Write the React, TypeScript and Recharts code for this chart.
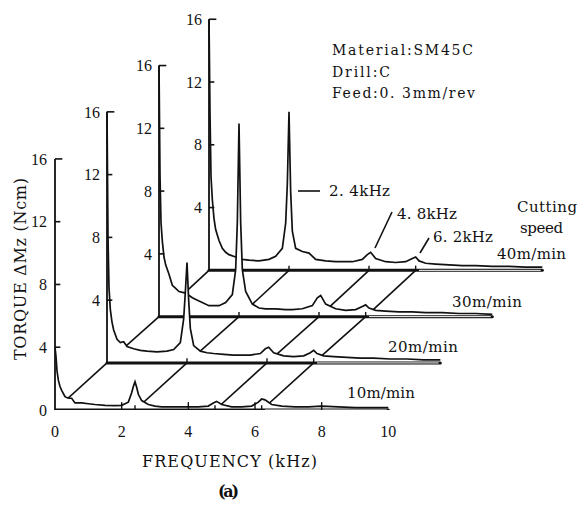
import React from 'react';
import { ComposedChart, Area, XAxis, YAxis, ReferenceLine, ReferenceDot } from 'recharts';

// frequency grid (kHz), shared by all four spectra
const FREQ = [
  0, 0.03, 0.06, 0.1, 0.15, 0.2, 0.3, 0.4, 0.5, 0.6, 0.8, 1.0, 1.2, 1.5, 1.8, 2.0, 2.2,
  2.3, 2.35, 2.4, 2.45, 2.5, 2.6, 2.8, 3.0, 3.2, 3.5, 3.8, 4.0, 4.3, 4.6, 4.75, 4.85, 5.0,
  5.3, 5.6, 5.9, 6.1, 6.2, 6.3, 6.5, 6.8, 7.2, 7.6, 8.0, 8.5, 9.0, 9.5, 10.0,
];

// torque amplitude dMz (Ncm) per cutting speed
const TORQUE_10 = [
  4.0, 3.4, 2.5, 1.9, 1.5, 1.25, 0.85, 0.75, 0.75, 0.45, 0.45, 0.4, 0.35, 0.3, 0.28, 0.3, 0.5,
  1.1, 1.5, 1.8, 1.45, 1.0, 0.6, 0.35, 0.25, 0.2, 0.2, 0.2, 0.2, 0.2, 0.25, 0.45, 0.55, 0.35,
  0.2, 0.2, 0.25, 0.5, 0.7, 0.65, 0.35, 0.25, 0.2, 0.2, 0.25, 0.2, 0.15, 0.15, 0.15,
];
const TORQUE_20 = [
  16, 8, 4.8, 3.4, 2.6, 2.1, 1.5, 1.3, 1.35, 1.05, 0.9, 0.8, 0.75, 0.7, 0.75, 0.85, 1.3,
  2.8, 4.5, 6.4, 4.0, 2.2, 1.1, 0.75, 0.65, 0.6, 0.55, 0.5, 0.5, 0.5, 0.6, 0.9, 1.0, 0.65,
  0.45, 0.4, 0.45, 0.65, 0.8, 0.6, 0.45, 0.4, 0.35, 0.3, 0.3, 0.25, 0.25, 0.2, 0.2,
];
const TORQUE_30 = [
  16, 9, 6, 4.8, 3.8, 3.3, 2.7, 2.0, 1.8, 1.6, 1.5, 1.2, 1.0, 0.7, 0.7, 0.9, 1.4,
  3.0, 6.0, 12.3, 6.0, 3.0, 1.6, 0.8, 0.55, 0.5, 0.5, 0.45, 0.45, 0.5, 0.7, 1.2, 1.35, 0.8,
  0.5, 0.4, 0.45, 0.65, 0.75, 0.55, 0.4, 0.35, 0.3, 0.3, 0.25, 0.25, 0.2, 0.2, 0.15,
];
const TORQUE_40 = [
  16, 10, 6, 4.5, 3.3, 2.6, 1.9, 1.4, 1.15, 1.0, 0.85, 0.7, 0.65, 0.6, 0.7, 0.9, 1.4,
  3.0, 5.5, 10.1, 5.0, 2.5, 1.4, 1.2, 1.1, 0.7, 0.6, 0.55, 0.55, 0.55, 0.7, 1.0, 1.15, 0.75,
  0.55, 0.5, 0.55, 0.75, 0.85, 0.6, 0.45, 0.4, 0.35, 0.3, 0.3, 0.25, 0.25, 0.2, 0.2,
];
const SPECTRA = [TORQUE_10, TORQUE_20, TORQUE_30, TORQUE_40];

const SPEED_LABELS = ['10m/min', '20m/min', '30m/min', '40m/min'];
const GUIDE_FREQ = [0, 2.4, 4.8, 6.2];
const X_TICKS = [0, 2, 4, 6, 8, 10];
const Y_TICKS = [0, 4, 8, 12, 16];
const BACK_Y_TICKS = [4, 8, 12, 16];

// waterfall offset of each layer, in front-axis units (kHz, Ncm)
const DX = [0, 1.56, 3.12, 4.62];
const DY = [0, 3.0, 5.95, 8.9];

const INK = '#111';
const NUM_FONT = { fontFamily: 'Liberation Serif', fontSize: 16, fill: INK };

const layerData = (k: number) =>
  FREQ.map((f, i) => ({ x: f + DX[k], y: SPECTRA[k][i] + DY[k] }));

const seg = (x1: number, y1: number, x2: number, y2: number) => [
  { x: x1, y: y1 },
  { x: x2, y: y2 },
];

export default function App() {
  const layers: React.ReactNode[] = [];
  // back to front so that the white fill of a nearer spectrum hides what is behind it
  for (let k = 3; k >= 0; k--) {
    if (k < 3) {
      GUIDE_FREQ.forEach((f) =>
        layers.push(
          <Area
            key={`diag-${k}-${f}`}
            data={seg(DX[k] + f, DY[k], DX[k + 1] + f, DY[k + 1])}
            dataKey="y"
            type="linear"
            stroke={INK}
            strokeWidth={1.6}
            fill="none"
            isAnimationActive={false}
            dot={false}
            activeDot={false}
          />
        )
      );
    }
    layers.push(
      <Area
        key={`spec-${k}`}
        data={layerData(k)}
        dataKey="y"
        type="linear"
        baseValue={DY[k]}
        stroke={INK}
        strokeWidth={1.7}
        fill="#fff"
        fillOpacity={1}
        isAnimationActive={false}
        dot={false}
        activeDot={false}
      />
    );
    layers.push(
      <Area
        key={`base-${k}`}
        data={seg(DX[k], DY[k], DX[k] + 10, DY[k])}
        dataKey="y"
        type="linear"
        stroke={INK}
        strokeWidth={3}
        strokeLinecap="round"
        fill="none"
        isAnimationActive={false}
        dot={false}
        activeDot={false}
      />
    );
    layers.push(
      <Area
        key={`base-in-${k}`}
        data={seg(DX[k] + 6.3, DY[k], DX[k] + 9.95, DY[k])}
        dataKey="y"
        type="linear"
        stroke="#fff"
        strokeWidth={1}
        fill="none"
        isAnimationActive={false}
        dot={false}
        activeDot={false}
      />
    );
  }

  const axes: React.ReactNode[] = [];
  for (let k = 0; k < 4; k++) {
    axes.push(
      <ReferenceLine
        key={`ax-${k}`}
        segment={seg(DX[k], DY[k], DX[k], DY[k] + 16)}
        stroke={INK}
        strokeWidth={1.8}
      />
    );
    BACK_Y_TICKS.forEach((v) => {
      axes.push(
        <ReferenceLine
          key={`yt-${k}-${v}`}
          segment={seg(DX[k], DY[k] + v, DX[k] + (v === 16 ? 0.22 : 0.16), DY[k] + v)}
          stroke={INK}
          strokeWidth={1.6}
        />
      );
      if (k > 0) {
        axes.push(
          <ReferenceDot
            key={`yl-${k}-${v}`}
            x={DX[k]}
            y={DY[k] + v}
            r={1}
            fill="none"
            stroke="none"
            label={{ value: String(v), position: 'left', offset: 6, ...NUM_FONT }}
          />
        );
      }
    });
    GUIDE_FREQ.slice(1).forEach((f) =>
      axes.push(
        <ReferenceLine
          key={`bt-${k}-${f}`}
          segment={seg(DX[k] + f, DY[k], DX[k] + f, DY[k] + 0.3)}
          stroke={INK}
          strokeWidth={1.4}
        />
      )
    );
  }
  X_TICKS.slice(1, 5).forEach((f) =>
    axes.push(
      <ReferenceLine
        key={`xt-${f}`}
        segment={seg(f, 0, f, 0.5)}
        stroke={INK}
        strokeWidth={1.4}
      />
    )
  );

  const txt = { fontFamily: 'DejaVu Serif', fill: INK } as const;

  return (
    <div style={{ position: 'absolute', left: 0, top: 0, width: 578, height: 510, background: '#fff' }}>
      <ComposedChart width={578} height={510} margin={{ top: 2, right: 3, bottom: 70, left: 15 }}>
        <XAxis
          dataKey="x"
          type="number"
          domain={[0, 15.6]}
          ticks={X_TICKS}
          interval={0}
          axisLine={false}
          tickLine={false}
          tickMargin={10}
          height={30}
          tick={NUM_FONT}
          allowDataOverflow
        />
        <YAxis
          type="number"
          domain={[0, 26]}
          ticks={Y_TICKS}
          interval={0}
          axisLine={false}
          tickLine={false}
          width={40}
          tick={NUM_FONT}
          allowDataOverflow
        />
        {layers}
        {axes}
      </ComposedChart>
      <svg
        width={578}
        height={510}
        style={{ position: 'absolute', left: 0, top: 0, pointerEvents: 'none' }}
      >
        <text {...txt} fontSize={14} x={332} y={55} textLength={141}>Material:SM45C</text>
        <text {...txt} fontSize={14} x={332} y={77} textLength={58}>Drill:C</text>
        <text {...txt} fontSize={14} x={332} y={98} textLength={143}>Feed:0. 3mm/rev</text>

        <line x1={298} y1={191} x2={320} y2={191} stroke={INK} strokeWidth={1.6} />
        <text {...txt} fontSize={15} x={329} y={196} textLength={61}>2. 4kHz</text>
        <line x1={375} y1={248} x2={392} y2={212} stroke={INK} strokeWidth={1.6} />
        <text {...txt} fontSize={15} x={397} y={219} textLength={60}>4. 8kHz</text>
        <line x1={420} y1={253} x2={429} y2={238} stroke={INK} strokeWidth={1.6} />
        <text {...txt} fontSize={15} x={433} y={242} textLength={60}>6. 2kHz</text>

        <text {...txt} fontSize={15} x={517} y={212} textLength={60}>Cutting</text>
        <text {...txt} fontSize={15} x={520} y={233} textLength={43}>speed</text>
        <text {...txt} fontSize={15} x={497} y={259} textLength={69}>{SPEED_LABELS[3]}</text>
        <text {...txt} fontSize={15} x={452} y={307} textLength={70}>{SPEED_LABELS[2]}</text>
        <text {...txt} fontSize={15} x={388} y={352} textLength={70}>{SPEED_LABELS[1]}</text>
        <text {...txt} fontSize={15} x={347} y={398} textLength={68}>{SPEED_LABELS[0]}</text>

        <text {...txt} fontSize={16} x={142} y={467} textLength={175}>FREQUENCY (kHz)</text>
        <text {...txt} fontSize={16} fontWeight="bold" x={218} y={497} textLength={21}>(a)</text>
        <text
          {...txt}
          fontSize={16}
          textLength={182}
          transform="translate(26,360) rotate(-90)"
          x={0}
          y={0}
        >
          TORQUE ΔMz (Ncm)
        </text>
      </svg>
    </div>
  );
}
